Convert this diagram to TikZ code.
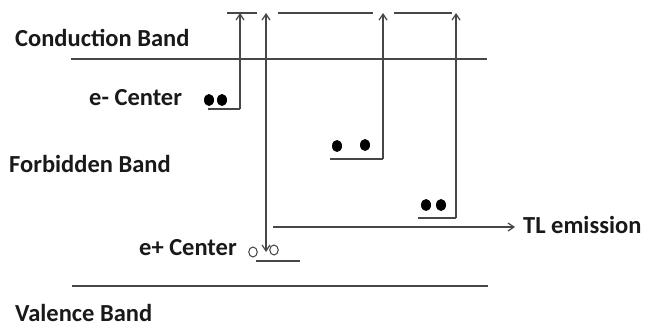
\documentclass[tikz,border=0pt]{standalone}
\usepackage{fontspec}
\setmainfont{Carlito}
\usetikzlibrary{arrows.meta,shapes.geometric}
\begin{document}
\begin{tikzpicture}[x=1pt,y=-1pt,
  ln/.style={draw=black!72,line width=1.2pt},
  arr/.style={ln,-{Straight Barb[length=6pt,width=8pt]}},
  lbl/.style={font=\bfseries\fontsize{24.5}{25}\selectfont,text=black!90,inner sep=0pt,anchor=base west},
  fdot/.style={ellipse,fill=black,inner sep=0pt,minimum width=10pt,minimum height=12pt},
  hdot/.style={ellipse,draw=black!75,line width=1pt,inner sep=0pt,minimum width=8.5pt,minimum height=10pt}]
\useasboundingbox (0,0) rectangle (645,326);
% labels
\node[lbl] (cb) at (15,47) {Conduction Band};
\node[lbl] (ec) at (89,106) {e- Center};
\node[lbl] (fb) at (9,172) {Forbidden Band};
\node[lbl] (pc) at (139,255) {e+ Center};
\node[lbl] (vb) at (15,321) {Valence Band};
\node[lbl] (tl) at (523,233) {TL emission};
% band lines
\coordinate (cbL) at (71,59); \coordinate (cbR) at (487,59);
\coordinate (vbL) at (72,286); \coordinate (vbR) at (488,286);
\draw[ln] (cbL) -- (cbR);
\draw[ln] (vbL) -- (vbR);
% top levels
\coordinate (t1a) at (227,13); \coordinate (t1b) at (257,13);
\coordinate (t2a) at (278,13); \coordinate (t2b) at (373,13);
\coordinate (t3a) at (394,13); \coordinate (t3b) at (452,13);
\draw[ln] (t1a) -- (t1b);
\draw[ln] (t2a) -- (t2b);
\draw[ln] (t3a) -- (t3b);
% e- center trap
\node[fdot] (d1) at (209,100) {};
\node[fdot] (d2) at (222,100) {};
\coordinate (tr1a) at (208,109); \coordinate (tr1b) at (240,109);
\coordinate (up1) at (240,13);
\draw[ln] (tr1a) -- (tr1b);
\draw[arr] (tr1b) -- (up1);
% middle trap
\node[fdot] (d3) at (337,146) {};
\node[fdot] (d4) at (365,145) {};
\coordinate (tr2a) at (330,159); \coordinate (tr2b) at (383,159);
\coordinate (up2) at (383,13);
\draw[ln] (tr2a) -- (tr2b);
\draw[arr] (tr2b) -- (up2);
% deep trap
\node[fdot] (d5) at (426,205) {};
\node[fdot] (d6) at (441,205) {};
\coordinate (tr3a) at (418,218); \coordinate (tr3b) at (456,218);
\coordinate (up3) at (456,13);
\draw[ln] (tr3a) -- (tr3b);
\draw[arr] (tr3b) -- (up3);
% long double arrow
\coordinate (lt) at (266,13); \coordinate (lb) at (266,252);
\draw[ln,{Straight Barb[length=6pt,width=8pt]}-{Straight Barb[length=6pt,width=8pt]}] (lb) -- (lt);
% TL emission
\coordinate (tlS) at (273,227); \coordinate (tlE) at (515,227);
\draw[arr] (tlS) -- (tlE);
% e+ center
\node[hdot] (h1) at (253,252) {};
\node[hdot] (h2) at (274,250) {};
\coordinate (tr4a) at (256,261); \coordinate (tr4b) at (300,261);
\draw[ln] (tr4a) -- (tr4b);
\end{tikzpicture}
\end{document}
